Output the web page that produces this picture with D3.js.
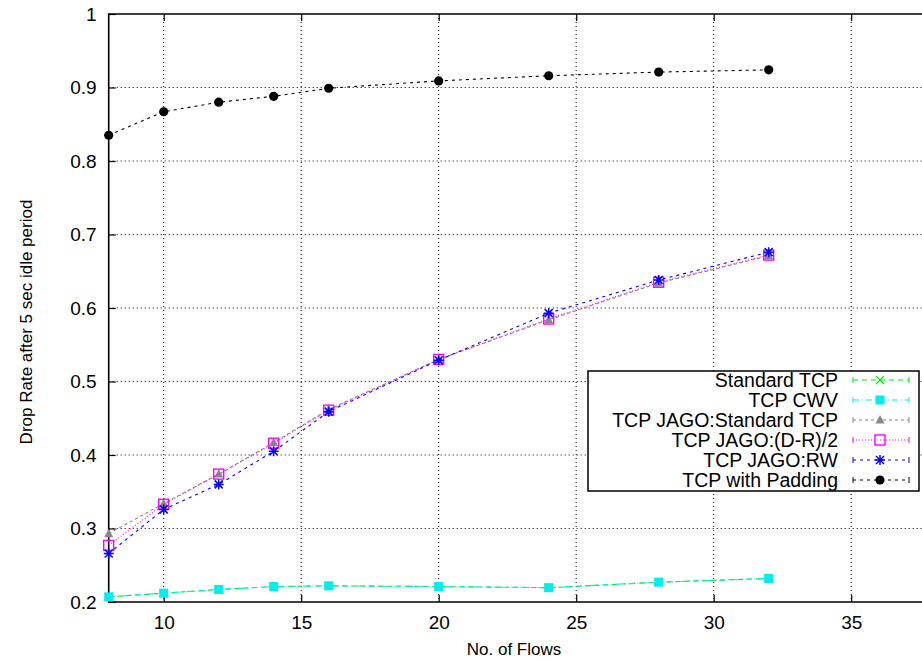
<!DOCTYPE html>
<html lang="en">
<head>
  <meta charset="UTF-8" />
  <title>Drop Rate after 5 sec idle period</title>
  <script src="https://d3js.org/d3.v7.min.js"></script>
  <style>
    body {
      margin: 0;
      background: #fff;
      font-family: "Liberation Sans", Arial, Helvetica, sans-serif;
    }
    svg { display: block; }
    .tick text {
      font-size: 19px;
      fill: #000;
    }
    .axis-title {
      font-size: 17px;
      fill: #000;
    }
    .legend-label {
      font-size: 19.5px;
      fill: #000;
    }
    .grid line {
      stroke: #000;
      stroke-width: 1;
      stroke-dasharray: 1,3;
    }
  </style>
</head>
<body>
  <div id="chart"></div>

  <script>
    const width  = 922;
    const height = 661;

    // flows on the x axis
    const flows = [8, 10, 12, 14, 16, 20, 24, 28, 32];

    // drop rate per protocol variant
    const standardTcp = [0.207, 0.212, 0.217, 0.221, 0.222, 0.221, 0.2195, 0.227, 0.232];
    const tcpCwv      = [0.207, 0.212, 0.217, 0.221, 0.222, 0.221, 0.2195, 0.227, 0.232];
    const jagoStd     = [0.293, 0.334, 0.374, 0.417, 0.462, 0.530, 0.584, 0.634, 0.671];
    const jagoDR      = [0.277, 0.333, 0.374, 0.416, 0.461, 0.530, 0.585, 0.635, 0.672];
    const jagoRW      = [0.266, 0.326, 0.360, 0.405, 0.459, 0.529, 0.593, 0.638, 0.676];
    const padding     = [0.835, 0.867, 0.880, 0.888, 0.899, 0.909, 0.916, 0.921, 0.924];

    const xTicks = [10, 15, 20, 25, 30, 35];
    const yTicks = [0.2, 0.3, 0.4, 0.5, 0.6, 0.7, 0.8, 0.9, 1];

    const series = [
      { name: "Standard TCP",          values: standardTcp, color: "#00ee00", dash: "5,4",     marker: "cross" },
      { name: "TCP CWV",               values: tcpCwv,      color: "#00eeee", dash: "6,3,1,3", marker: "square" },
      { name: "TCP JAGO:Standard TCP", values: jagoStd,     color: "#888888", dash: "3,3",     marker: "triangle" },
      { name: "TCP JAGO:(D-R)/2",      values: jagoDR,      color: "#ff00ff", dash: "1,2",     marker: "openSquare" },
      { name: "TCP JAGO:RW",           values: jagoRW,      color: "#0000ff", dash: "3,4",     marker: "star" },
      { name: "TCP with Padding",      values: padding,     color: "#000000", dash: "3,4",     marker: "circle" }
    ];

    const plotLeft = 108.7, plotRight = 933.7, plotTop = 14, plotBottom = 602;

    const x = d3.scaleLinear().domain([8, 38]).range([plotLeft, plotRight]);
    const y = d3.scaleLinear().domain([0.2, 1]).range([plotBottom, plotTop]);

    const svg = d3.select("#chart")
      .append("svg")
        .attr("width", width)
        .attr("height", height);

    // dotted grid
    const grid = svg.append("g").attr("class", "grid");
    grid.selectAll(".gx")
      .data(xTicks)
      .enter().append("line")
        .attr("x1", d => x(d)).attr("x2", d => x(d))
        .attr("y1", plotTop).attr("y2", plotBottom);
    grid.selectAll(".gy")
      .data(yTicks.filter(d => d > 0.2 && d < 1))
      .enter().append("line")
        .attr("x1", plotLeft).attr("x2", plotRight)
        .attr("y1", d => y(d)).attr("y2", d => y(d));

    // axes with inward ticks
    const xAxis = svg.append("g")
      .attr("transform", `translate(0,${plotBottom})`)
      .call(d3.axisBottom(x).tickValues(xTicks).tickSize(-7).tickSizeOuter(0).tickPadding(14));
    const xAxisTop = svg.append("g")
      .attr("transform", `translate(0,${plotTop})`)
      .call(d3.axisTop(x).tickValues(xTicks).tickSize(-7).tickSizeOuter(0).tickFormat(""));
    const yAxis = svg.append("g")
      .attr("transform", `translate(${plotLeft},0)`)
      .call(d3.axisLeft(y).tickValues(yTicks).tickSize(-7).tickSizeOuter(0).tickPadding(12)
        .tickFormat(d => d === 1 ? "1" : d3.format(".1f")(d)));

    [xAxis, xAxisTop, yAxis].forEach(a => {
      a.select(".domain").remove();
      a.selectAll(".tick line").attr("stroke", "#000").attr("stroke-width", 1.2);
      a.selectAll(".tick text").attr("font-family", null).attr("font-size", null);
    });
    yAxis.selectAll(".tick text").attr("dy", "0.34em");

    // frame
    svg.append("path")
      .attr("d", `M${plotRight},${plotTop}H${plotLeft}V${plotBottom}H${plotRight}`)
      .attr("fill", "none")
      .attr("stroke", "#000")
      .attr("stroke-width", 1.6);

    // axis titles
    svg.append("text")
      .attr("class", "axis-title")
      .attr("x", 514)
      .attr("y", 655)
      .attr("text-anchor", "middle")
      .text("No. of Flows");

    svg.append("text")
      .attr("class", "axis-title")
      .attr("transform", "translate(32,322) rotate(-90)")
      .attr("text-anchor", "middle")
      .text("Drop Rate after 5 sec idle period");

    function drawMarker(g, type, color, cx, cy) {
      switch (type) {
        case "cross":
          g.append("path")
            .attr("d", `M${cx - 4},${cy - 4}L${cx + 4},${cy + 4}M${cx - 4},${cy + 4}L${cx + 4},${cy - 4}`)
            .attr("stroke", color).attr("stroke-width", 1.3).attr("fill", "none");
          break;
        case "square":
          g.append("rect")
            .attr("x", cx - 4.5).attr("y", cy - 4.5)
            .attr("width", 9).attr("height", 9)
            .attr("fill", color);
          break;
        case "triangle":
          g.append("path")
            .attr("d", `M${cx},${cy - 5}L${cx + 4.5},${cy + 3.5}L${cx - 4.5},${cy + 3.5}Z`)
            .attr("fill", color);
          break;
        case "openSquare":
          g.append("rect")
            .attr("x", cx - 5).attr("y", cy - 5)
            .attr("width", 10).attr("height", 10)
            .attr("fill", "none").attr("stroke", color).attr("stroke-width", 1.4);
          break;
        case "star":
          g.append("path")
            .attr("d", `M${cx - 5},${cy}L${cx + 5},${cy}M${cx},${cy - 5}L${cx},${cy + 5}` +
                       `M${cx - 4},${cy - 4}L${cx + 4},${cy + 4}M${cx - 4},${cy + 4}L${cx + 4},${cy - 4}`)
            .attr("stroke", color).attr("stroke-width", 1.5).attr("fill", "none");
          break;
        case "circle":
          g.append("circle")
            .attr("cx", cx).attr("cy", cy).attr("r", 4.6)
            .attr("fill", color);
          break;
      }
    }

    const line = d3.line()
      .x((d, i) => x(flows[i]))
      .y(d => y(d));

    // series lines and markers
    series.forEach(s => {
      const g = svg.append("g");
      g.append("path")
        .datum(s.values)
        .attr("d", line)
        .attr("fill", "none")
        .attr("stroke", s.color)
        .attr("stroke-width", 1.1)
        .attr("stroke-dasharray", s.dash);
      s.values.forEach((v, i) => drawMarker(g, s.marker, s.color, x(flows[i]), y(v)));
    });

    // legend
    const legend = svg.append("g");
    legend.append("rect")
      .attr("x", 588).attr("y", 371)
      .attr("width", 331).attr("height", 120)
      .attr("fill", "#fff")
      .attr("stroke", "#000")
      .attr("stroke-width", 1.5);

    series.forEach((s, i) => {
      const cy = 380 + i * 20;
      legend.append("text")
        .attr("class", "legend-label")
        .attr("x", 838)
        .attr("y", cy)
        .attr("dy", "0.36em")
        .attr("text-anchor", "end")
        .text(s.name);
      legend.append("line")
        .attr("x1", 853).attr("x2", 909)
        .attr("y1", cy).attr("y2", cy)
        .attr("stroke", s.color)
        .attr("stroke-width", 1.1)
        .attr("stroke-dasharray", s.dash);
      legend.append("path")
        .attr("d", `M853,${cy - 3}V${cy + 3}M909,${cy - 3}V${cy + 3}`)
        .attr("stroke", s.color)
        .attr("stroke-width", 1);
      drawMarker(legend, s.marker, s.color, 880, cy);
    });
  </script>
</body>
</html>
